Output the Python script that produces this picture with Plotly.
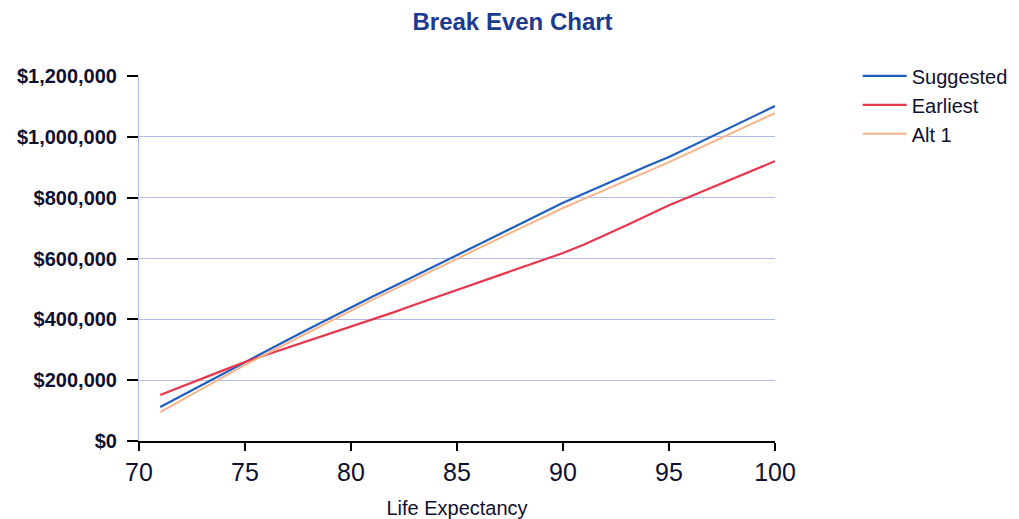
import plotly.graph_objects as go

# Life expectancy (years) on the x axis
ages = list(range(71, 101))

# Cumulative benefit for each claiming strategy ($)
suggested = [112000, 149000, 186000, 223000, 260000, 296000, 332000, 368000, 404000, 440000,
             474000, 508000, 542000, 577000, 611000, 645000, 680000, 714000, 749000, 783000,
             814000, 845000, 875000, 905000, 934000, 967000, 1001000, 1034000, 1068000, 1101000]
earliest = [151000, 179000, 206000, 233000, 260000, 283000, 306000, 329000, 352000, 375000,
            399000, 423000, 448000, 472000, 497000, 521000, 545000, 570000, 594000, 618000,
            646000, 677000, 709000, 742000, 775000, 804000, 833000, 862000, 891000, 920000]
alt1 = [95000, 134000, 173000, 212000, 250000, 286000, 322000, 358000, 394000, 430000,
        464000, 498000, 532000, 566000, 600000, 633000, 666000, 700000, 733000, 766000,
        796000, 826000, 857000, 887000, 917000, 949000, 981000, 1014000, 1046000, 1078000]

y_ticks = [0, 200000, 400000, 600000, 800000, 1000000, 1200000]
y_tick_labels = ["$0", "$200,000", "$400,000", "$600,000", "$800,000", "$1,000,000", "$1,200,000"]
x_ticks = [70, 75, 80, 85, 90, 95, 100]

FONT = "Liberation Sans"
GRID = "#b3bce6"
TEXT = "#101030"

fig = go.Figure()
fig.add_trace(go.Scatter(x=ages, y=suggested, mode="lines", name="Suggested",
                         line=dict(color="#1f5fc0", width=2.2)))
fig.add_trace(go.Scatter(x=ages, y=earliest, mode="lines", name="Earliest",
                         line=dict(color="#e8364f", width=2.2)))
fig.add_trace(go.Scatter(x=ages, y=alt1, mode="lines", name="Alt 1",
                         line=dict(color="#f5b48a", width=2)))

fig.update_layout(
    width=1019, height=519,
    margin=dict(l=139, r=244, t=76, b=78, autoexpand=False),
    paper_bgcolor="white", plot_bgcolor="white",
    title=dict(text="<b>Break Even Chart</b>", x=0.503, xanchor="center",
               y=1 - 22 / 519, yanchor="middle", yref="container",
               font=dict(family=FONT, size=24, color="#1c3a8f")),
    legend=dict(x=1.13, y=1.054, xanchor="left", yanchor="top",
                font=dict(family=FONT, size=20, color=TEXT),
                itemwidth=44, tracegroupgap=0, bgcolor="rgba(0,0,0,0)"),
    xaxis=dict(range=[70, 100], tickvals=x_ticks, showgrid=False, zeroline=False,
               showline=True, linecolor="black", linewidth=2,
               ticks="outside", ticklen=8, tickwidth=2, tickcolor="black",
               tickfont=dict(family=FONT, size=25, color=TEXT),
               title=dict(text="Life Expectancy", standoff=17,
                          font=dict(family=FONT, size=20, color=TEXT))),
    yaxis=dict(range=[0, 1200000], tickvals=y_ticks, ticktext=y_tick_labels,
               showgrid=True, gridcolor=GRID, gridwidth=1, zeroline=False,
               showline=True, linecolor=GRID, linewidth=1,
               ticks="outside", ticklen=11, tickwidth=2, tickcolor="black",
               ticklabelstandoff=6,
               tickfont=dict(family=FONT, size=20, color=TEXT, weight="bold")),
)

fig.write_html("out.html")
